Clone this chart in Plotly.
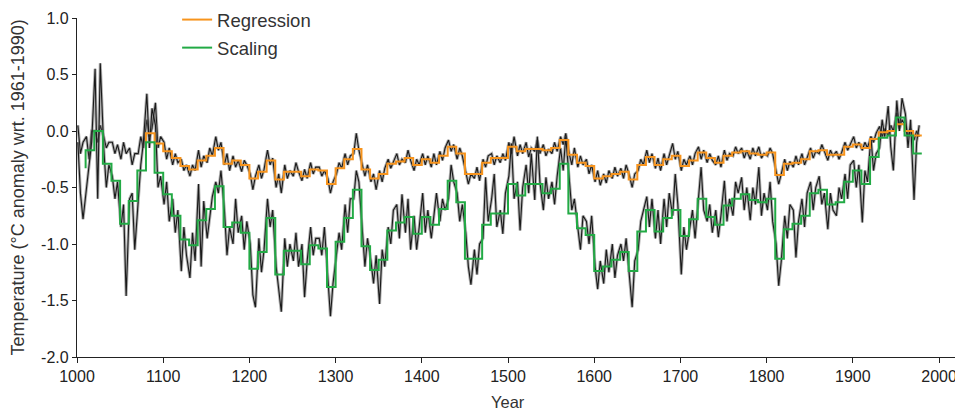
import plotly.graph_objects as go

# ---------------- data ----------------
DECADES = list(range(1000, 1980, 10))
SAMPLE_OFFSETS = [1, 4, 7]  # three readings per decade for the annual (noisy) series

# upper annual series (tracks the regression reconstruction)
UPPER_ANNUAL = [
    0.05, -0.20, -0.10,   -0.05, -0.25, 0.00,   0.00, -0.10, 0.05,   -0.05, -0.15, -0.10,
    -0.10, -0.20, -0.12,  -0.25, -0.10, -0.20,  -0.15, -0.30, -0.20,  -0.20, -0.05, -0.15,
    0.10, -0.05, 0.02,    0.25, -0.15, -0.05,                                          # 1000-1090
    -0.10, -0.25, -0.15,  -0.30, -0.20, -0.28,  -0.25, -0.35, -0.30,  -0.40, -0.30, -0.35,
    -0.17, -0.32, -0.22,  -0.28, -0.15, -0.22,  -0.05, -0.17, -0.10,  -0.30, -0.20, -0.35,
    -0.22, -0.32, -0.26,  -0.36, -0.26, -0.30,                                        # 1100-1190
    -0.38, -0.52, -0.40,  -0.30, -0.42, -0.34,  -0.17, -0.30, -0.24,  -0.50, -0.38, -0.55,
    -0.30, -0.42, -0.35,  -0.40, -0.28, -0.36,  -0.44, -0.34, -0.42,  -0.28, -0.38, -0.32,
    -0.32, -0.40, -0.35,  -0.42, -0.55, -0.45,                                        # 1200-1290
    -0.38, -0.28, -0.33,  -0.20, -0.30, -0.22,  -0.20, -0.02, -0.17,  -0.29, -0.40, -0.30,
    -0.45, -0.38, -0.52,  -0.35, -0.45, -0.33,  -0.25, -0.33, -0.28,  -0.20, -0.30, -0.25,
    -0.28, -0.17, -0.26,  -0.35, -0.25, -0.30,                                        # 1300-1390
    -0.20, -0.30, -0.22,  -0.32, -0.20, -0.30,  -0.18, -0.26, -0.15,  -0.08, -0.18, -0.12,
    -0.25, -0.15, -0.22,  -0.35, -0.47, -0.38,  -0.42, -0.32, -0.44,  -0.25, -0.32, -0.22,
    -0.20, -0.30, -0.22,  -0.28, -0.20, -0.26,                                        # 1400-1490
    -0.10, -0.20, -0.05,  -0.22, -0.12, -0.20,  -0.10, -0.23, -0.15,  -0.18, -0.08, -0.20,
    -0.12, -0.22, -0.16,  -0.20, -0.10, -0.18,  -0.05, -0.12, -0.02,  -0.20, -0.30, -0.15,
    -0.32, -0.22, -0.30,  -0.25, -0.38, -0.30,                                        # 1500-1590
    -0.45, -0.35, -0.48,  -0.38, -0.46, -0.35,  -0.42, -0.32, -0.40,  -0.33, -0.42, -0.30,
    -0.40, -0.50, -0.38,  -0.35, -0.25, -0.30,  -0.17, -0.28, -0.20,  -0.33, -0.24, -0.35,
    -0.20, -0.30, -0.22,  -0.11, -0.25, -0.18,                                        # 1600-1690
    -0.35, -0.25, -0.30,  -0.22, -0.30, -0.20,  -0.14, -0.25, -0.17,  -0.28, -0.20, -0.26,
    -0.30, -0.22, -0.32,  -0.17, -0.26, -0.20,  -0.22, -0.14, -0.20,  -0.15, -0.24, -0.17,
    -0.25, -0.15, -0.22,  -0.14, -0.24, -0.20,                                        # 1700-1790
    -0.22, -0.15, -0.20,  -0.35, -0.47, -0.38,  -0.25, -0.35, -0.27,  -0.32, -0.22, -0.30,
    -0.20, -0.30, -0.24,  -0.15, -0.24, -0.18,  -0.20, -0.12, -0.18,  -0.26, -0.17, -0.22,
    -0.18, -0.25, -0.19,  -0.10, -0.17, -0.12,                                        # 1800-1890
    -0.05, -0.15, -0.10,  -0.17, -0.10, -0.15,  -0.05, -0.10, -0.02,  0.04, -0.05, 0.02,
    -0.04, 0.05, 0.00,    0.16, 0.02, 0.10,     0.05, -0.05, 0.02,    -0.08, 0.00, -0.05,  # 1900-1970
]

# lower annual series (tracks the scaling reconstruction)
LOWER_ANNUAL = [
    -0.10, -0.55, -0.78,  -0.52, -0.30, -0.10,  0.55, -0.60, 0.60,    -0.15, -0.50, -0.30,
    -0.40, -0.60, -0.45,  -0.85, -0.65, -1.46,  -0.60, -0.55, -1.05,  -0.60, -0.30, -0.10,
    0.33, -0.15, 0.20,    0.05, -0.50, -0.40,                                          # 1000-1090
    -0.65, -0.45, -0.80,  -0.60, -0.90, -0.70,  -1.24, -0.85, -1.10,  -1.30, -0.90, -1.15,
    -0.47, -1.20, -0.62,  -0.95, -0.75, -0.58,  -0.45, -0.55, -0.35,  -0.70, -1.10, -0.85,
    -1.00, -0.60, -0.90,  -0.75, -1.05, -0.80,                                        # 1100-1190
    -1.00, -1.45, -1.56,  -0.95, -1.25, -1.05,  -0.60, -0.85, -0.70,  -1.20, -1.40, -1.60,
    -0.95, -1.20, -1.00,  -1.15, -0.90, -1.20,  -1.00, -1.47, -1.15,  -0.85, -1.10, -0.95,
    -0.95, -1.10, -0.85,  -1.30, -1.64, -1.35,                                        # 1200-1290
    -1.10, -0.90, -1.05,  -0.65, -0.90, -0.60,  -0.60, -0.35, -0.45,  -0.90, -1.20, -0.95,
    -1.15, -1.35, -1.10,  -1.53, -1.05, -1.20,  -0.85, -1.00, -0.70,  -0.65, -0.95, -0.56,
    -0.90, -0.60, -1.05,  -0.75, -1.05, -0.85,                                        # 1300-1390
    -0.55, -0.90, -0.70,  -0.95, -0.75, -0.55,  -0.80, -0.60, -0.70,  -0.60, -0.30, -0.45,
    -0.55, -0.80, -0.65,  -0.90, -1.20, -1.36,  -1.05, -1.27, -1.00,  -0.95, -0.41, -0.80,
    -0.60, -0.38, -0.85,  -0.70, -0.91, -0.55,                                        # 1400-1490
    -0.40, -0.11, -0.60,  -0.45, -0.88, -0.50,  -0.30, -0.55, -0.20,  -0.61, -0.05, -0.45,
    -0.70, -0.41, -0.60,  -0.45, -0.65, -0.40,  -0.15, -0.35, -0.05,  -0.40, -0.70, -0.60,
    -0.85, -1.05, -0.75,  -0.80, -1.00, -0.75,                                        # 1500-1590
    -1.20, -1.40, -1.15,  -1.35, -1.05, -1.25,  -1.00, -1.30, -1.10,  -1.00, -1.15, -0.95,
    -1.30, -1.56, -1.15,  -1.05, -0.80, -0.70,  -0.58, -0.85, -0.60,  -0.95, -0.70, -1.00,
    -0.60, -0.85, -0.55,  -0.75, -0.38, -0.65,                                        # 1600-1690
    -1.27, -0.85, -1.05,  -0.85, -0.70, -0.95,  -0.55, -0.32, -0.70,  -0.80, -0.65, -0.90,
    -0.70, -0.94, -0.75,  -0.44, -0.80, -0.60,  -0.75, -0.45, -0.55,  -0.41, -0.70, -0.50,
    -0.79, -0.50, -0.65,  -0.32, -0.75, -0.55,                                        # 1700-1790
    -0.70, -0.45, -0.80,  -1.00, -1.37, -1.15,  -0.75, -0.95, -0.65,  -0.70, -1.12, -0.80,
    -0.60, -0.85, -0.55,  -0.45, -0.70, -0.50,  -0.40, -0.65, -0.55,  -0.87, -0.55, -0.70,
    -0.75, -0.50, -0.60,  -0.38, -0.60, -0.30,                                        # 1800-1890
    -0.26, -0.50, -0.30,  -0.81, -0.35, -0.45,  -0.05, -0.35, -0.20,  -0.15, 0.10, -0.05,
    0.22, -0.14, -0.35,   0.27, 0.00, 0.29,     0.15, -0.15, 0.10,    -0.61, -0.10, 0.05,  # 1900-1970
]

# decadal step series: value of the decade that ends at the given year
SCALING_YEARS = list(range(1010, 1981, 10))
SCALING = [
    -0.33, -0.17, 0.00, -0.29, -0.44, -0.82, -0.62, -0.35, -0.10, -0.37,
    -0.56, -0.75, -0.96, -1.01, -0.79, -0.69, -0.49, -0.85, -0.81, -0.90,
    -1.22, -1.07, -0.77, -1.27, -1.06, -1.06, -1.18, -1.01, -1.04, -1.38,
    -0.98, -0.77, -0.52, -1.02, -1.23, -1.14, -0.88, -0.81, -0.76, -0.91,
    -0.76, -0.83, -0.69, -0.44, -0.63, -1.13, -1.13, -0.83, -0.73, -0.73,
    -0.47, -0.57, -0.47, -0.47, -0.55, -0.51, -0.29, -0.73, -0.86, -0.92,
    -1.24, -1.20, -1.14, -1.07, -1.24, -0.89, -0.70, -0.89, -0.77, -0.70,
    -0.93, -0.78, -0.60, -0.76, -0.83, -0.66, -0.60, -0.56, -0.61, -0.63,
    -0.60, -1.13, -0.87, -0.82, -0.75, -0.55, -0.52, -0.65, -0.63, -0.45,
    -0.35, -0.47, -0.23, -0.06, -0.04, 0.12, -0.04, -0.20,
]

REGRESSION_YEARS = list(range(1080, 1981, 10))
REGRESSION = [
    -0.26, -0.02, -0.11, -0.18, -0.24, -0.31, -0.34, -0.26, -0.22, -0.15,
    -0.29, -0.26, -0.30, -0.42, -0.36, -0.26, -0.43, -0.36, -0.36, -0.40,
    -0.34, -0.35, -0.47, -0.33, -0.25, -0.16, -0.34, -0.42, -0.38, -0.29,
    -0.27, -0.24, -0.30, -0.25, -0.28, -0.22, -0.14, -0.20, -0.38, -0.38,
    -0.28, -0.24, -0.24, -0.14, -0.18, -0.16, -0.16, -0.17, -0.15, -0.08,
    -0.21, -0.28, -0.31, -0.42, -0.40, -0.38, -0.36, -0.43, -0.30, -0.23,
    -0.30, -0.25, -0.22, -0.31, -0.26, -0.19, -0.24, -0.28, -0.22, -0.19,
    -0.18, -0.20, -0.21, -0.19, -0.39, -0.29, -0.28, -0.25, -0.18, -0.17,
    -0.21, -0.21, -0.14, -0.12, -0.15, -0.07, -0.01, 0.00, 0.06, 0.00,
    -0.04,
]

X_TICKS = list(range(1000, 2001, 100))
Y_TICKS = [1.0, 0.5, 0.0, -0.5, -1.0, -1.5, -2.0]
Y_TICK_TEXT = ["1.0", "0.5", "0.0", "-0.5", "-1.0", "-1.5", "-2.0"]

ANNUAL_YEARS = [d + o for d in DECADES for o in SAMPLE_OFFSETS]

# ---------------- figure ----------------
fig = go.Figure()

for series in (UPPER_ANNUAL, LOWER_ANNUAL):
    fig.add_trace(go.Scatter(x=ANNUAL_YEARS, y=series, mode="lines",
                             line=dict(color="rgba(110,110,110,0.55)", width=3),
                             showlegend=False, hoverinfo="skip"))
    fig.add_trace(go.Scatter(x=ANNUAL_YEARS, y=series, mode="lines",
                             line=dict(color="#1a1a1a", width=1.1),
                             showlegend=False))

fig.add_trace(go.Scatter(x=REGRESSION_YEARS, y=REGRESSION, mode="lines", name="Regression",
                         line=dict(color="#F7941D", width=2, shape="vh"),
                         legendgroup="a"))
fig.add_trace(go.Scatter(x=SCALING_YEARS, y=SCALING, mode="lines", name="Scaling",
                         line=dict(color="#22AA45", width=2, shape="vh"),
                         legendgroup="b"))

FONT = "Liberation Sans, Arial, Helvetica, sans-serif"

# the page body keeps the browser's default 8px margin, so the figure is sized to fit inside it
fig.update_layout(
    width=955, height=404,
    margin=dict(l=69, r=0, t=10, b=55, autoexpand=False),
    paper_bgcolor="white", plot_bgcolor="white",
    font=dict(family=FONT, size=16, color="#222"),
    showlegend=True,
    legend=dict(x=0.113, y=1.05, xanchor="left", yanchor="top",
                bgcolor="rgba(0,0,0,0)", font=dict(size=18.5, color="#333"),
                traceorder="grouped", tracegroupgap=1),
    xaxis=dict(range=[1000, 2027.8], tickvals=X_TICKS, ticks="outside", ticklen=5,
               tickcolor="#222", showline=True, linecolor="#222", linewidth=1.2,
               showgrid=False, zeroline=False, tickfont=dict(size=16, color="#222")),
    yaxis=dict(range=[-2.0, 1.0], tickvals=Y_TICKS, ticktext=Y_TICK_TEXT,
               ticks="outside", ticklen=4, tickcolor="#222", showline=True,
               linecolor="#222", linewidth=1.2, showgrid=False, zeroline=False,
               tickfont=dict(size=16, color="#222")),
    annotations=[
        dict(text="Year", x=1500, xref="x", y=0, yref="paper", yanchor="top",
             yshift=-34, showarrow=False, font=dict(size=16.5, color="#333")),
        dict(text="Temperature (°C anomaly wrt. 1961-1990)", x=-0.0666, xref="paper",
             y=0.5, yref="paper", textangle=-90, showarrow=False,
             xanchor="center", yanchor="middle", font=dict(size=18, color="#333")),
    ],
)

fig.write_html("out.html")
